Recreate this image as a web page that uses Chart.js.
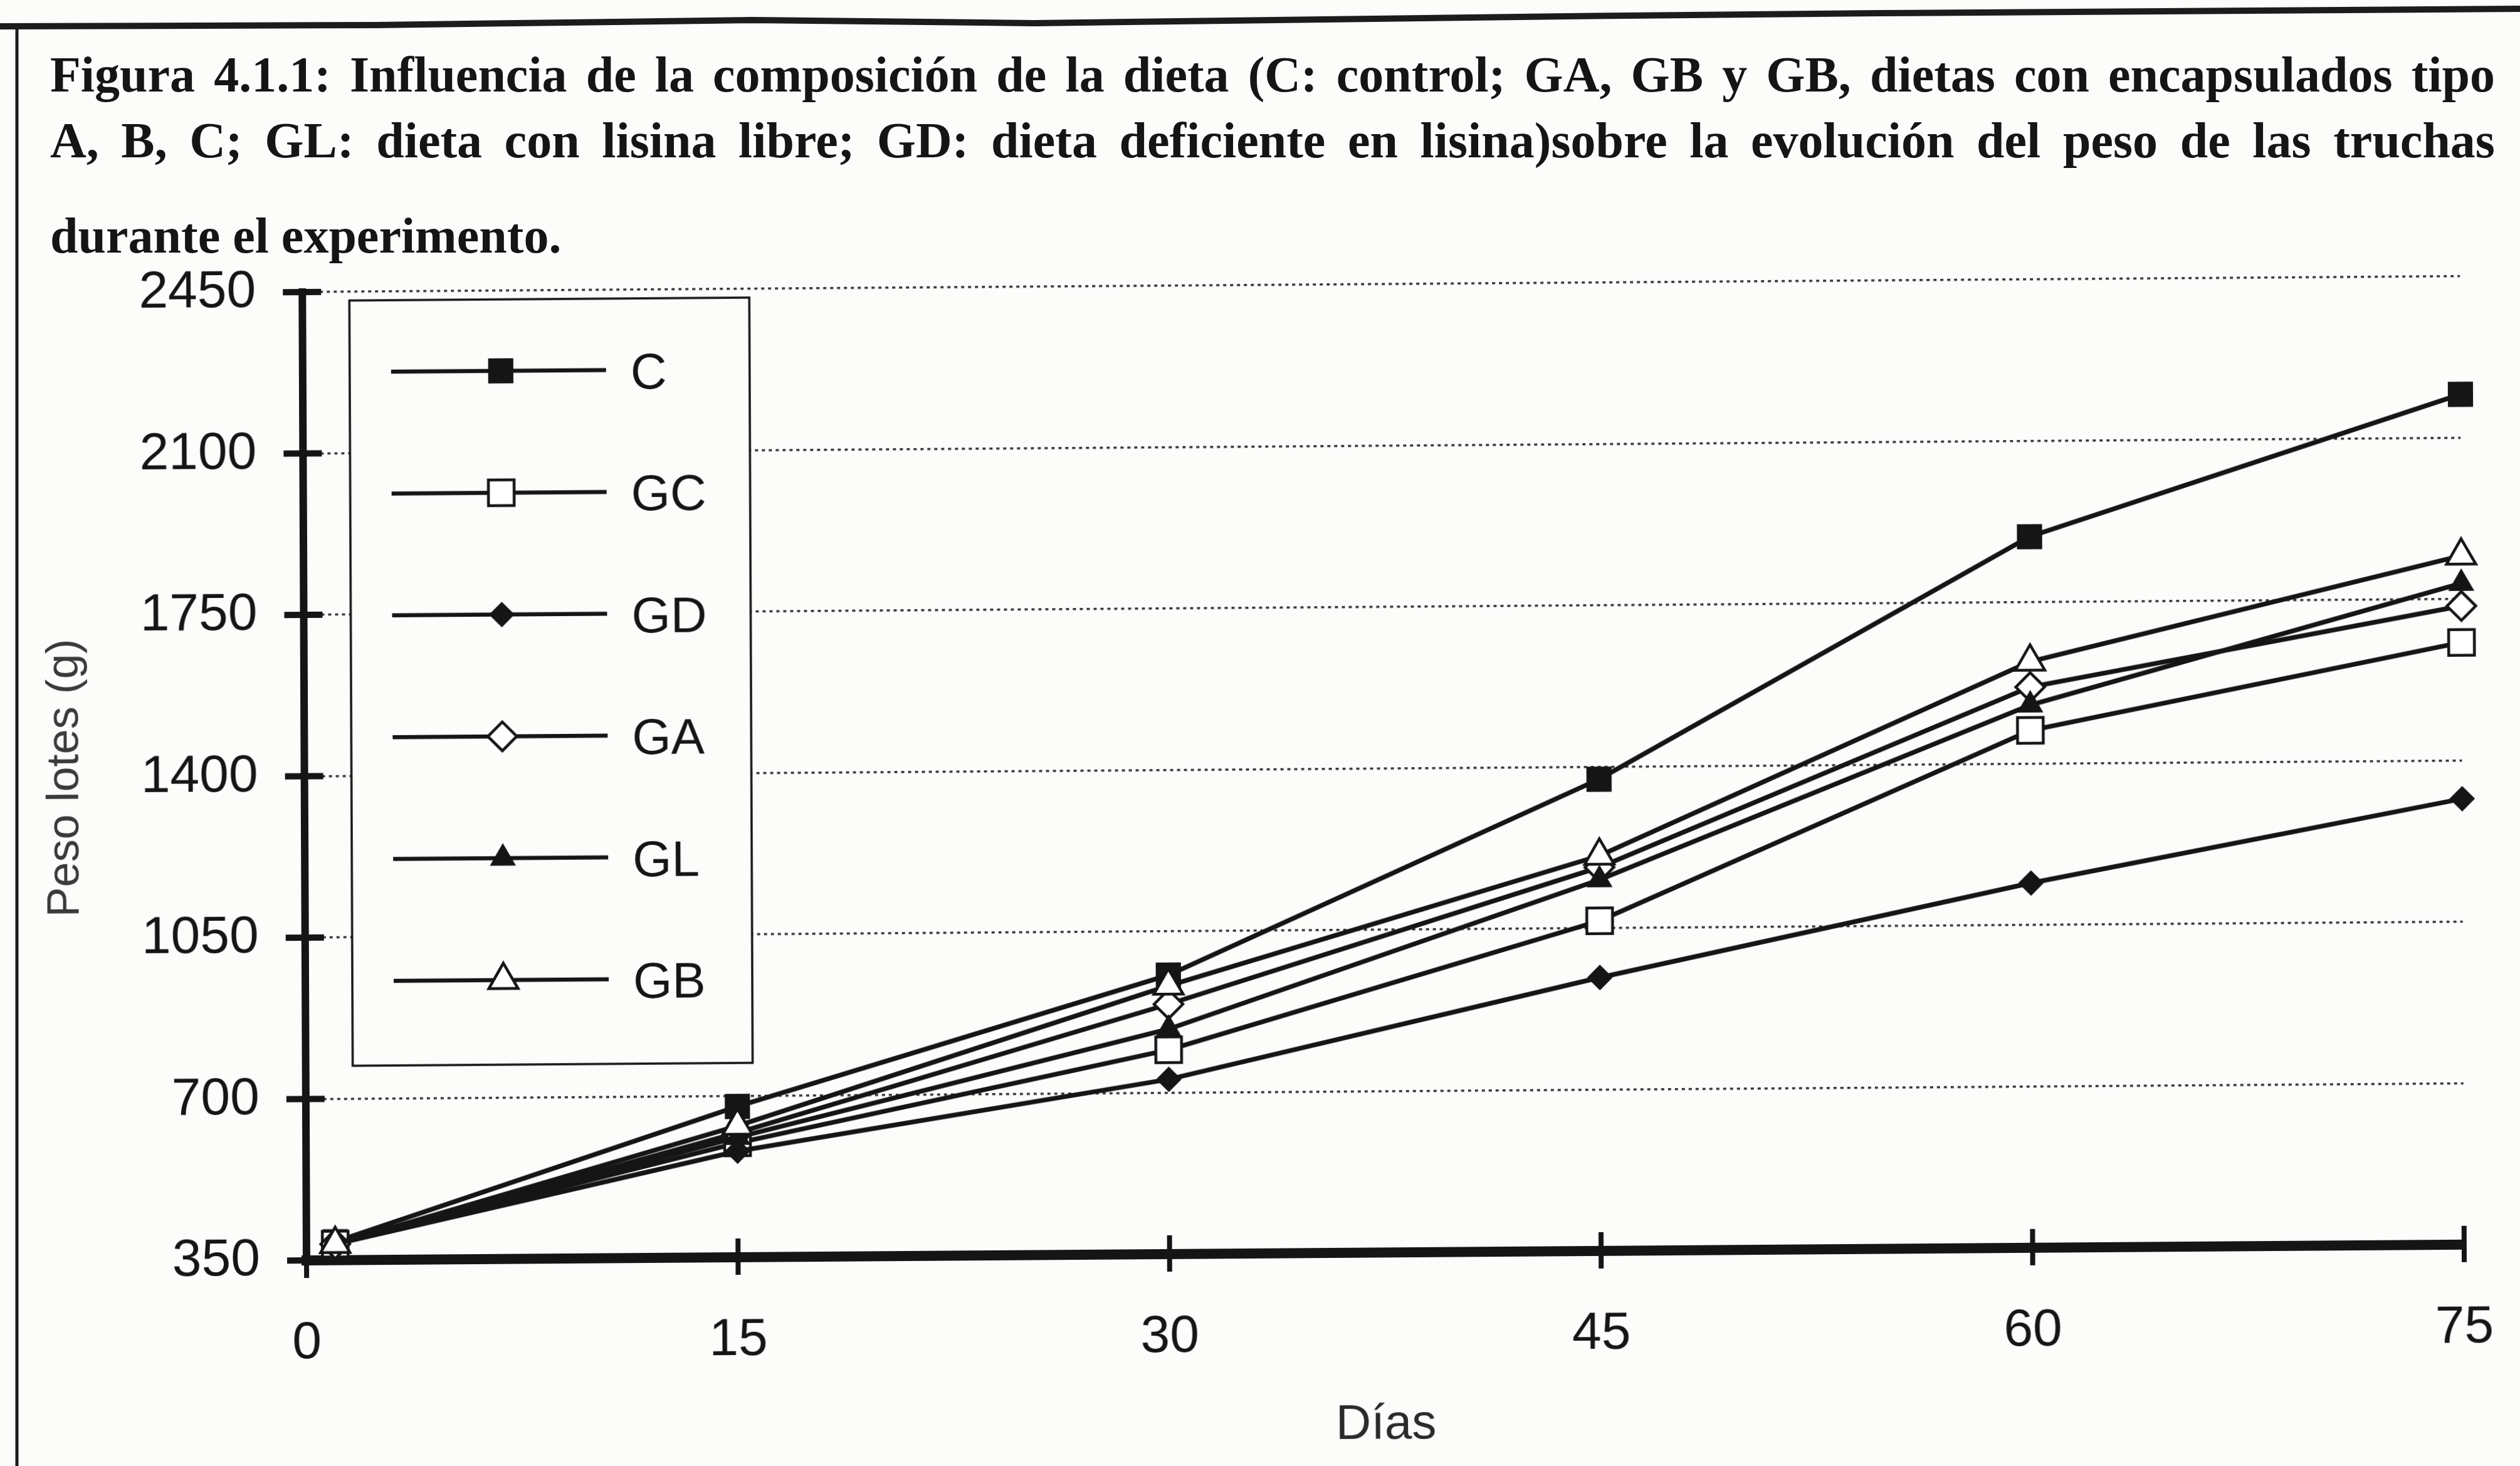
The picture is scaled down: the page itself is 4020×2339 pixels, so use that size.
<!DOCTYPE html>
<html lang="es">
<head>
<meta charset="utf-8">
<title>Figura 4.1.1 - Peso de las truchas</title>
<script src="https://cdn.jsdelivr.net/npm/chart.js"></script>
<style>
  html, body { margin: 0; padding: 0; background: #fcfcfb; }
  #page { position: relative; width: 4020px; height: 2339px; overflow: hidden; }
  /* the plotted figure sits a little askew on the page */
  #chart { position: absolute; left: 0; top: 0; transform: rotate(-0.25deg) skewY(-0.17deg); transform-origin: 489px 2011px; }
  #frame { position: absolute; left: 0; top: 0; }
  .caption {
    position: absolute; left: 80px; width: 3900px;
    font-family: "Liberation Serif", "Times New Roman", serif;
    font-weight: bold; font-size: 80px; line-height: 80px; color: #151515;
  }
  .caption.full { text-align: justify; text-align-last: justify; }
</style>
</head>
<body>
<div id="page">
  <svg id="frame" width="4020" height="2339">
    <polyline points="0,42 600,40 1200,32 1650,37 2500,26 3000,21 4020,14"
              fill="none" stroke="#1c1c1c" stroke-width="10"/>
    <line x1="27" y1="40" x2="27" y2="2339" stroke="#1c1c1c" stroke-width="5"/>
  </svg>
  <div class="caption full" style="top:79px">Figura 4.1.1: Influencia de la composición de la dieta (C: control; GA, GB y GB, dietas con encapsulados tipo</div>
  <div class="caption full" style="top:184px">A, B, C; GL: dieta con lisina libre; GD: dieta deficiente en lisina)sobre la evolución del peso de las truchas</div>
  <div class="caption" style="top:336px">durante el experimento.</div>
  <canvas id="chart" width="4020" height="2339"></canvas>
</div>
<script>
// days of sampling and batch weight (g) for each diet
const days = [1, 15, 30, 45, 60, 75];
const pesoC  = [390, 677, 955, 1373, 1892, 2194];
const pesoGC = [385, 598, 793, 1066, 1472, 1656];
const pesoGD = [385, 580, 729, 943, 1141, 1317];
const pesoGA = [385, 620, 892, 1182, 1566, 1735];
const pesoGL = [385, 610, 838, 1155, 1527, 1784];
const pesoGB = [385, 635, 932, 1207, 1621, 1844];

const xTickValues = [0, 15, 30, 45, 60, 75];
const yTickValues = [350, 700, 1050, 1400, 1750, 2100, 2450];

const INK = '#151515';
const SANS = '"Liberation Sans", Arial, sans-serif';

function serie(label, data, pointStyle, radius, filled, order) {
  return {
    label,
    data: days.map((d, i) => ({ x: d, y: data[i] })),
    order,
    borderColor: INK,
    borderWidth: 7.5,
    pointStyle,
    pointRadius: radius,
    pointHoverRadius: radius,
    pointBackgroundColor: filled ? INK : '#ffffff',
    pointBorderColor: INK,
    pointBorderWidth: filled ? 2 : 4.5,
    tension: 0,
    clip: false,
  };
}

// later series are painted over earlier ones
const datasets = [
  serie('C',  pesoC,  'rect',     27, true,  5),
  serie('GC', pesoGC, 'rect',     29, false, 4),
  serie('GD', pesoGD, 'rectRot',  19, true,  3),
  serie('GA', pesoGA, 'rectRot',  23, false, 2),
  serie('GL', pesoGL, 'triangle', 22, true,  1),
  serie('GB', pesoGB, 'triangle', 27, false, 0),
];

// boxed legend drawn inside the plot, over the grid and under the lines
const boxLegend = {
  id: 'boxLegend',
  beforeDatasetsDraw(chart) {
    const ctx = chart.ctx;
    const box = { left: 564, top: 480, right: 1202, bottom: 1701 };
    ctx.save();
    ctx.fillStyle = '#fcfcfb';
    ctx.fillRect(box.left, box.top, box.right - box.left, box.bottom - box.top);
    ctx.lineWidth = 3.5;
    ctx.strokeStyle = INK;
    ctx.strokeRect(box.left, box.top, box.right - box.left, box.bottom - box.top);

    ctx.font = '80px ' + SANS;
    ctx.textBaseline = 'middle';
    ctx.textAlign = 'left';
    chart.data.datasets.forEach((ds, i) => {
      const y = 594 + i * 194.4;
      ctx.lineWidth = 6.5;
      ctx.strokeStyle = INK;
      ctx.beginPath();
      ctx.moveTo(630, y);
      ctx.lineTo(973, y);
      ctx.stroke();

      ctx.fillStyle = ds.pointBackgroundColor;
      ctx.strokeStyle = INK;
      ctx.lineWidth = ds.pointBorderWidth;
      Chart.helpers.drawPoint(ctx, {
        pointStyle: ds.pointStyle,
        radius: ds.pointRadius,
        rotation: 0,
        borderWidth: ds.pointBorderWidth,
      }, 805, y);

      ctx.fillStyle = INK;
      ctx.fillText(ds.label, 1012, y + 8);
    });
    ctx.restore();
  }
};

// tick marks crossing both axes
const crossTicks = {
  id: 'crossTicks',
  beforeDatasetsDraw(chart) {
    const { ctx, chartArea, scales } = chart;
    ctx.save();
    ctx.strokeStyle = INK;
    ctx.lineWidth = 10;
    scales.y.ticks.forEach(t => {
      const y = scales.y.getPixelForValue(t.value);
      ctx.beginPath();
      ctx.moveTo(chartArea.left - 31, y);
      ctx.lineTo(chartArea.left + 30, y);
      ctx.stroke();
    });
    ctx.lineWidth = 8;
    scales.x.ticks.forEach(t => {
      const x = scales.x.getPixelForValue(t.value);
      ctx.beginPath();
      ctx.moveTo(x, chartArea.bottom - 30);
      ctx.lineTo(x, chartArea.bottom + 28);
      ctx.stroke();
    });
    ctx.restore();
  }
};

new Chart(document.getElementById('chart').getContext('2d'), {
  type: 'line',
  data: { datasets },
  options: {
    responsive: false,
    animation: false,
    events: [],
    layout: { padding: { top: 466, right: 89, left: 0, bottom: 0 } },
    plugins: {
      legend: { display: false },
      tooltip: { enabled: false },
    },
    scales: {
      x: {
        type: 'linear',
        min: 0,
        max: 75,
        afterBuildTicks: s => { s.ticks = xTickValues.map(v => ({ value: v })); },
        afterFit: s => { s.height = 328; },
        // invisible tick marks keep the labels well below the axis
        grid: { display: true, drawOnChartArea: false, drawTicks: true, tickLength: 82, tickColor: 'rgba(0,0,0,0)' },
        border: { display: true, color: INK, width: 16 },
        ticks: {
          padding: 0,
          color: INK,
          font: { family: SANS, size: 84 },
          callback: v => String(v),
        },
        title: {
          display: true,
          text: 'Días',
          color: '#2a2a2a',
          font: { family: SANS, size: 78 },
          padding: { top: 0, bottom: 6 },
        },
      },
      y: {
        type: 'linear',
        min: 350,
        max: 2450,
        afterBuildTicks: s => { s.ticks = yTickValues.map(v => ({ value: v })); },
        afterFit: s => { s.width = 489; },
        grid: { color: '#383838', lineWidth: 3.5, drawTicks: false },
        border: { display: true, color: INK, width: 12, dash: [5, 6] },
        ticks: {
          padding: 74,
          color: INK,
          font: { family: SANS, size: 84 },
          callback: v => String(v),
        },
        title: {
          display: true,
          text: 'Peso lotes (g)',
          color: '#3a3a3a',
          font: { family: SANS, size: 72 },
          padding: { top: 65, bottom: 0 },
        },
      },
    },
  },
  plugins: [boxLegend, crossTicks],
});
</script>
</body>
</html>
